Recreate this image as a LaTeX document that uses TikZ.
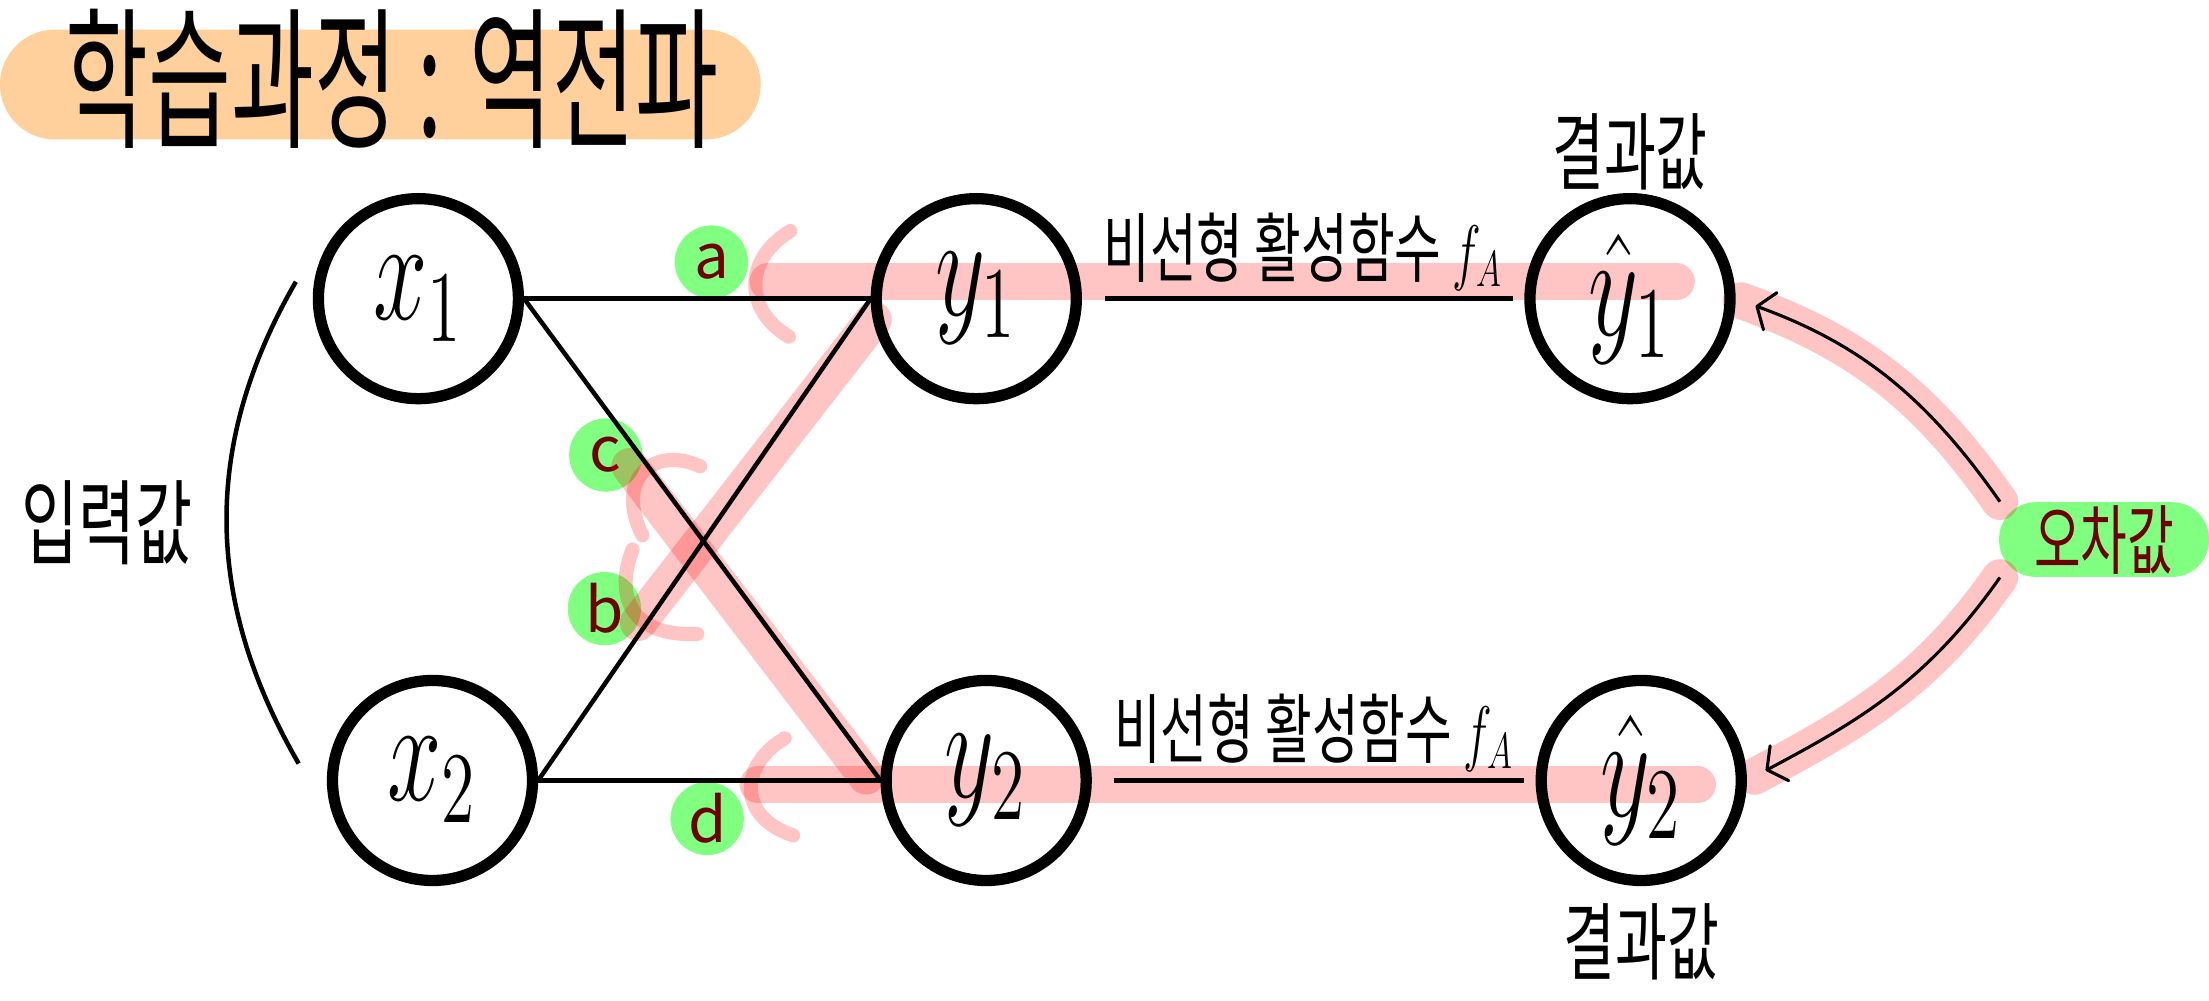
\documentclass[tikz,border=0pt]{standalone}
\usepackage{fontspec}
\setmainfont{Noto Sans CJK KR}
\usepackage{graphicx}
\usetikzlibrary{arrows.meta,positioning}

\definecolor{peach}{HTML}{FFD09C}
\definecolor{tagfill}{HTML}{80FF80}
\definecolor{tagtext}{HTML}{6E0000}
\definecolor{hlred}{HTML}{FF0000}
\pgfdeclarelayer{bg}
\pgfsetlayers{bg,main}
\newcommand{\tallk}[2][1.5]{\scalebox{1}[#1]{#2}}
\newcommand{\unitlbl}[1]{\scalebox{2}[3]{$#1$}}

\begin{document}
\begin{tikzpicture}
[every node/.style={inner sep=0pt},
 >={Straight Barb[length=5pt,width=14pt,round]},
 unit/.style={circle, minimum size=71pt, line width=4pt, draw=black, font=\fontsize{17}{17}\selectfont},
 tag/.style={circle, minimum size=26pt, fill=tagfill, text=tagtext, font=\fontsize{22}{22}\selectfont},
 errpill/.style={rounded corners=13pt, fill=tagfill, text=tagtext, minimum width=74.5pt, minimum height=26.5pt, font=\fontsize{18}{18}\selectfont},
 pill/.style={rounded corners=19.5pt, fill=peach},
 hl/.style={line width=13pt, draw=hlred, draw opacity=0.23, line cap=round},
 hlthin/.style={hl, line width=5pt},
 wire/.style={line width=1.6pt, draw=black},
 note/.style={font=\fontsize{20}{20}\selectfont}]
\useasboundingbox (0pt, 0pt) rectangle (784pt, -355pt);

% title
\node (titlebox) [pill, minimum width=270pt, minimum height=39pt] at (135pt, -30pt) {};
\node (title) [font=\fontsize{32}{32}\selectfont] at (139pt, -28pt) {\tallk[1.7]{학습과정 : 역전파}};

% units
\node (x1) [unit] at (148.5pt, -106pt) {\unitlbl{x_1}};
\node (x2) [unit] at (153.5pt, -277pt) {\unitlbl{x_2}};
\node (y1) [unit] at (346.5pt, -106pt) {\unitlbl{y_1}};
\node (y2) [unit] at (350.0pt, -277pt) {\unitlbl{y_2}};
\node (yh1) [unit] at (578.5pt, -106pt) {\unitlbl{\hat{y}_1}};
\node (yh2) [unit] at (582.5pt, -277pt) {\unitlbl{\hat{y}_2}};

% labels
\node (res1) [note, above=1pt of yh1] {\tallk{결과값}};
\node (res2) [note, below=6pt of yh2] {\tallk{결과값}};
\node (input) [note, font=\fontsize{22}{22}\selectfont] at (38pt, -185.5pt) {\tallk{입력값}};
\coordinate (brtop) at (105pt, -100pt);
\coordinate (brbot) at (106pt, -271pt);

\begin{pgfonlayer}{bg}
\node (a) [tag] at (252.5pt, -93pt) {a};
\node (c) [tag] at (215.0pt, -161.5pt) {c};
\node (b) [tag] at (214.5pt, -216pt) {b};
\node (d) [tag] at (251.0pt, -290.5pt) {d};
\node (err) [errpill] at (746.75pt, -191.5pt) {\tallk{오차값}};
% highlight
\draw [hl] (272.5pt, -100pt) -- (595pt, -100pt);
\draw [hl] (269pt, -278.5pt) -- (602.5pt, -278.5pt);
\draw [hl] (310pt, -113.5pt) -- (226.5pt, -221pt);
\draw [hl] (307.5pt, -275.5pt) -- (223.5pt, -165.5pt);
\draw [hl, shorten >=2pt] (err.160) to [out=125, in=-20] (yh1.east);
\draw [hl, shorten >=3pt] (err.200) to [out=235, in=28] (yh2.east);
\draw [hlthin] (280.5pt, -82pt) .. controls (264pt, -92pt) and (264pt, -110pt) .. (280pt, -119.5pt);
\draw [hlthin] (248.5pt, -165.5pt) .. controls (232pt, -158pt) and (218pt, -170pt) .. (228pt, -190pt);
\draw [hlthin] (224.5pt, -195pt) .. controls (218pt, -212pt) and (224pt, -226pt) .. (247.5pt, -225pt);
\draw [hlthin] (278.5pt, -262pt) .. controls (262pt, -272pt) and (262pt, -290pt) .. (281.5pt, -296.5pt);
\end{pgfonlayer}

\draw [wire] (x1.east) -- (y1.west);
\draw [wire] (x1.east) -- (y2.west);
\draw [wire] (x2.east) -- (y1.west);
\draw [wire] (x2.east) -- (y2.west);
\draw [line width=2pt, shorten <=8pt, shorten >=4pt] (y1.east) -- (yh1.west) node [midway, above=2pt, font=\fontsize{18}{18}\selectfont] {\tallk{비선형 활성함수 $f_A$}};
\draw [line width=2pt, shorten <=8pt, shorten >=4pt] (y2.east) -- (yh2.west) node [midway, above=2pt, font=\fontsize{18}{18}\selectfont] {\tallk{비선형 활성함수 $f_A$}};
\draw [line width=1.1pt, ->, shorten >=7.5pt] (err.160) to [out=125, in=-20] (yh1.east);
\draw [line width=1.1pt, ->, shorten >=7.5pt] (err.200) to [out=235, in=28] (yh2.east);
\draw [line width=1.6pt] (brtop) to [out=240, in=120] (brbot);
\end{tikzpicture}
\end{document}
